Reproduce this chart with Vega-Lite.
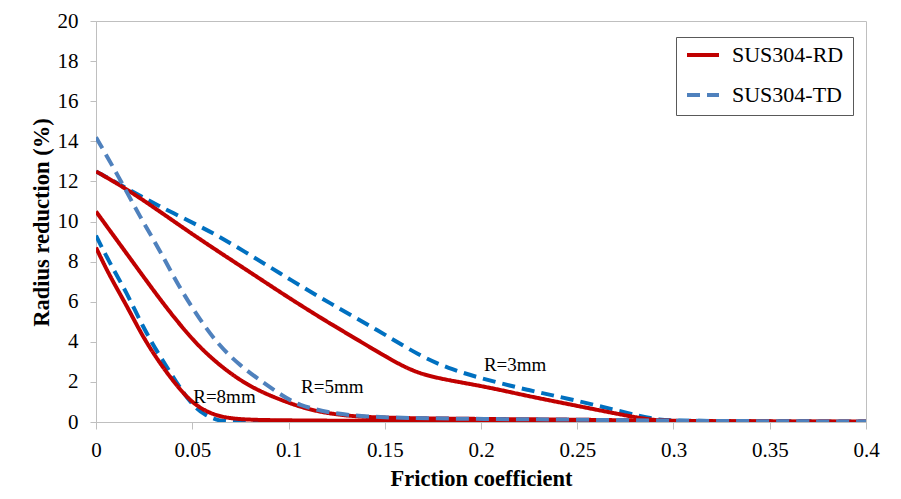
{
  "$schema": "https://vega.github.io/schema/vega-lite/v6.json",
  "autosize": {"type": "none"},
  "padding": {"left": 96, "top": 21, "right": 35, "bottom": 77},
  "width": 770,
  "height": 401,
  "background": "white",
  "config": {
    "font": "Liberation Serif",
    "view": {"stroke": "#BFBFBF", "strokeWidth": 1},
    "axis": {
      "grid": false,
      "domainColor": "#BFBFBF",
      "tickColor": "#BFBFBF",
      "labelFont": "Liberation Serif",
      "labelFontSize": 21,
      "labelColor": "black",
      "titleFont": "Liberation Serif",
      "titleFontSize": 22.5,
      "titleFontWeight": "bold",
      "titleColor": "black"
    },
    "legend": {
      "labelFont": "Liberation Serif",
      "labelFontSize": 22,
      "labelColor": "black"
    }
  },
  "datasets": {
    "curves": [
      {"friction": 0, "reduction": 12.5, "direction": "SUS304-RD", "radius": "3"},
      {"friction": 0.02, "reduction": 11.4, "direction": "SUS304-RD", "radius": "3"},
      {"friction": 0.05, "reduction": 9.35, "direction": "SUS304-RD", "radius": "3"},
      {"friction": 0.078, "reduction": 7.6, "direction": "SUS304-RD", "radius": "3"},
      {"friction": 0.1, "reduction": 6.2, "direction": "SUS304-RD", "radius": "3"},
      {"friction": 0.12, "reduction": 5.0, "direction": "SUS304-RD", "radius": "3"},
      {"friction": 0.135, "reduction": 4.15, "direction": "SUS304-RD", "radius": "3"},
      {"friction": 0.148, "reduction": 3.4, "direction": "SUS304-RD", "radius": "3"},
      {"friction": 0.16, "reduction": 2.75, "direction": "SUS304-RD", "radius": "3"},
      {"friction": 0.17, "reduction": 2.35, "direction": "SUS304-RD", "radius": "3"},
      {"friction": 0.185, "reduction": 2.05, "direction": "SUS304-RD", "radius": "3"},
      {"friction": 0.203, "reduction": 1.75, "direction": "SUS304-RD", "radius": "3"},
      {"friction": 0.225, "reduction": 1.28, "direction": "SUS304-RD", "radius": "3"},
      {"friction": 0.245, "reduction": 0.9, "direction": "SUS304-RD", "radius": "3"},
      {"friction": 0.27, "reduction": 0.42, "direction": "SUS304-RD", "radius": "3"},
      {"friction": 0.288, "reduction": 0.1, "direction": "SUS304-RD", "radius": "3"},
      {"friction": 0.3, "reduction": 0.03, "direction": "SUS304-RD", "radius": "3"},
      {"friction": 0.35, "reduction": 0.02, "direction": "SUS304-RD", "radius": "3"},
      {"friction": 0.4, "reduction": 0, "direction": "SUS304-RD", "radius": "3"},

      {"friction": 0, "reduction": 10.5, "direction": "SUS304-RD", "radius": "5"},
      {"friction": 0.011, "reduction": 9.05, "direction": "SUS304-RD", "radius": "5"},
      {"friction": 0.022, "reduction": 7.6, "direction": "SUS304-RD", "radius": "5"},
      {"friction": 0.033, "reduction": 6.15, "direction": "SUS304-RD", "radius": "5"},
      {"friction": 0.044, "reduction": 4.8, "direction": "SUS304-RD", "radius": "5"},
      {"friction": 0.055, "reduction": 3.6, "direction": "SUS304-RD", "radius": "5"},
      {"friction": 0.069, "reduction": 2.45, "direction": "SUS304-RD", "radius": "5"},
      {"friction": 0.083, "reduction": 1.6, "direction": "SUS304-RD", "radius": "5"},
      {"friction": 0.1, "reduction": 0.95, "direction": "SUS304-RD", "radius": "5"},
      {"friction": 0.113, "reduction": 0.55, "direction": "SUS304-RD", "radius": "5"},
      {"friction": 0.13, "reduction": 0.3, "direction": "SUS304-RD", "radius": "5"},
      {"friction": 0.15, "reduction": 0.2, "direction": "SUS304-RD", "radius": "5"},
      {"friction": 0.2, "reduction": 0.15, "direction": "SUS304-RD", "radius": "5"},
      {"friction": 0.25, "reduction": 0.12, "direction": "SUS304-RD", "radius": "5"},
      {"friction": 0.3, "reduction": 0.05, "direction": "SUS304-RD", "radius": "5"},
      {"friction": 0.35, "reduction": 0.03, "direction": "SUS304-RD", "radius": "5"},
      {"friction": 0.4, "reduction": 0.02, "direction": "SUS304-RD", "radius": "5"},

      {"friction": 0, "reduction": 8.7, "direction": "SUS304-RD", "radius": "8"},
      {"friction": 0.007, "reduction": 7.3, "direction": "SUS304-RD", "radius": "8"},
      {"friction": 0.016, "reduction": 5.8, "direction": "SUS304-RD", "radius": "8"},
      {"friction": 0.024, "reduction": 4.3, "direction": "SUS304-RD", "radius": "8"},
      {"friction": 0.033, "reduction": 2.95, "direction": "SUS304-RD", "radius": "8"},
      {"friction": 0.042, "reduction": 1.8, "direction": "SUS304-RD", "radius": "8"},
      {"friction": 0.05, "reduction": 0.95, "direction": "SUS304-RD", "radius": "8"},
      {"friction": 0.059, "reduction": 0.42, "direction": "SUS304-RD", "radius": "8"},
      {"friction": 0.069, "reduction": 0.17, "direction": "SUS304-RD", "radius": "8"},
      {"friction": 0.083, "reduction": 0.1, "direction": "SUS304-RD", "radius": "8"},
      {"friction": 0.1, "reduction": 0.08, "direction": "SUS304-RD", "radius": "8"},
      {"friction": 0.15, "reduction": 0.05, "direction": "SUS304-RD", "radius": "8"},
      {"friction": 0.2, "reduction": 0.02, "direction": "SUS304-RD", "radius": "8"},
      {"friction": 0.4, "reduction": 0, "direction": "SUS304-RD", "radius": "8"},

      {"friction": 0, "reduction": 12.5, "direction": "SUS304-TD", "radius": "3"},
      {"friction": 0.016, "reduction": 11.65, "direction": "SUS304-TD", "radius": "3"},
      {"friction": 0.031, "reduction": 10.85, "direction": "SUS304-TD", "radius": "3"},
      {"friction": 0.054, "reduction": 9.76, "direction": "SUS304-TD", "radius": "3"},
      {"friction": 0.066, "reduction": 9.15, "direction": "SUS304-TD", "radius": "3"},
      {"friction": 0.09, "reduction": 7.75, "direction": "SUS304-TD", "radius": "3"},
      {"friction": 0.1, "reduction": 7.15, "direction": "SUS304-TD", "radius": "3"},
      {"friction": 0.121, "reduction": 5.95, "direction": "SUS304-TD", "radius": "3"},
      {"friction": 0.147, "reduction": 4.55, "direction": "SUS304-TD", "radius": "3"},
      {"friction": 0.168, "reduction": 3.3, "direction": "SUS304-TD", "radius": "3"},
      {"friction": 0.185, "reduction": 2.6, "direction": "SUS304-TD", "radius": "3"},
      {"friction": 0.203, "reduction": 2.1, "direction": "SUS304-TD", "radius": "3"},
      {"friction": 0.224, "reduction": 1.6, "direction": "SUS304-TD", "radius": "3"},
      {"friction": 0.245, "reduction": 1.17, "direction": "SUS304-TD", "radius": "3"},
      {"friction": 0.27, "reduction": 0.6, "direction": "SUS304-TD", "radius": "3"},
      {"friction": 0.283, "reduction": 0.28, "direction": "SUS304-TD", "radius": "3"},
      {"friction": 0.293, "reduction": 0.11, "direction": "SUS304-TD", "radius": "3"},
      {"friction": 0.3, "reduction": 0.06, "direction": "SUS304-TD", "radius": "3"},
      {"friction": 0.35, "reduction": 0.04, "direction": "SUS304-TD", "radius": "3"},
      {"friction": 0.4, "reduction": 0.02, "direction": "SUS304-TD", "radius": "3"},

      {"friction": 0, "reduction": 14.2, "direction": "SUS304-TD", "radius": "5"},
      {"friction": 0.012, "reduction": 12.2, "direction": "SUS304-TD", "radius": "5"},
      {"friction": 0.023, "reduction": 10.2, "direction": "SUS304-TD", "radius": "5"},
      {"friction": 0.033, "reduction": 8.6, "direction": "SUS304-TD", "radius": "5"},
      {"friction": 0.043, "reduction": 6.75, "direction": "SUS304-TD", "radius": "5"},
      {"friction": 0.054, "reduction": 5.1, "direction": "SUS304-TD", "radius": "5"},
      {"friction": 0.064, "reduction": 3.8, "direction": "SUS304-TD", "radius": "5"},
      {"friction": 0.075, "reduction": 2.8, "direction": "SUS304-TD", "radius": "5"},
      {"friction": 0.087, "reduction": 1.95, "direction": "SUS304-TD", "radius": "5"},
      {"friction": 0.097, "reduction": 1.3, "direction": "SUS304-TD", "radius": "5"},
      {"friction": 0.105, "reduction": 0.85, "direction": "SUS304-TD", "radius": "5"},
      {"friction": 0.121, "reduction": 0.45, "direction": "SUS304-TD", "radius": "5"},
      {"friction": 0.139, "reduction": 0.27, "direction": "SUS304-TD", "radius": "5"},
      {"friction": 0.16, "reduction": 0.2, "direction": "SUS304-TD", "radius": "5"},
      {"friction": 0.2, "reduction": 0.15, "direction": "SUS304-TD", "radius": "5"},
      {"friction": 0.25, "reduction": 0.12, "direction": "SUS304-TD", "radius": "5"},
      {"friction": 0.3, "reduction": 0.06, "direction": "SUS304-TD", "radius": "5"},
      {"friction": 0.35, "reduction": 0.04, "direction": "SUS304-TD", "radius": "5"},
      {"friction": 0.4, "reduction": 0.02, "direction": "SUS304-TD", "radius": "5"},

      {"friction": 0, "reduction": 9.3, "direction": "SUS304-TD", "radius": "8"},
      {"friction": 0.007, "reduction": 7.95, "direction": "SUS304-TD", "radius": "8"},
      {"friction": 0.016, "reduction": 6.45, "direction": "SUS304-TD", "radius": "8"},
      {"friction": 0.024, "reduction": 4.8, "direction": "SUS304-TD", "radius": "8"},
      {"friction": 0.033, "reduction": 3.3, "direction": "SUS304-TD", "radius": "8"},
      {"friction": 0.042, "reduction": 1.95, "direction": "SUS304-TD", "radius": "8"},
      {"friction": 0.049, "reduction": 0.95, "direction": "SUS304-TD", "radius": "8"},
      {"friction": 0.056, "reduction": 0.36, "direction": "SUS304-TD", "radius": "8"},
      {"friction": 0.064, "reduction": 0.05, "direction": "SUS304-TD", "radius": "8"},
      {"friction": 0.07, "reduction": 0, "direction": "SUS304-TD", "radius": "8"},
      {"friction": 0.4, "reduction": 0, "direction": "SUS304-TD", "radius": "8"}
    ],
    "labels": [
      {"friction": 0.0505, "reduction": 1.25, "text": "R=8mm"},
      {"friction": 0.1065, "reduction": 1.75, "text": "R=5mm"},
      {"friction": 0.2015, "reduction": 2.85, "text": "R=3mm"}
    ]
  },
  "layer": [
    {
      "data": {"name": "curves"},
      "transform": [
        {"filter": "datum.direction == 'SUS304-TD' && datum.radius != '5'"}
      ],
      "mark": {"type": "line", "interpolate": "basis", "strokeWidth": 4, "color": "#0070C0", "strokeDash": [13, 7], "clip": true},
      "encoding": {
        "x": {"field": "friction", "type": "quantitative"},
        "y": {"field": "reduction", "type": "quantitative"},
        "detail": {"field": "radius", "type": "nominal"}
      }
    },
    {
      "data": {"name": "curves"},
      "transform": [
        {"filter": "datum.direction == 'SUS304-RD' || datum.radius == '5'"}
      ],
      "mark": {"type": "line", "interpolate": "basis", "strokeWidth": 4, "clip": true},
      "encoding": {
        "x": {
          "field": "friction",
          "type": "quantitative",
          "scale": {"domain": [0, 0.4], "nice": false},
          "axis": {
            "title": "Friction coefficient",
            "values": [0, 0.05, 0.1, 0.15, 0.2, 0.25, 0.3, 0.35, 0.4],
            "format": "~g",
            "tickSize": 7,
            "labelPadding": 10,
            "labelFlush": false,
            "titleBaseline": "alphabetic",
            "titleY": 63
          }
        },
        "y": {
          "field": "reduction",
          "type": "quantitative",
          "scale": {"domain": [0, 20], "nice": false},
          "axis": {
            "title": "Radius reduction (%)",
            "values": [0, 2, 4, 6, 8, 10, 12, 14, 16, 18, 20],
            "tickSize": 6,
            "labelPadding": 12,
            "labelFlush": false,
            "titleBaseline": "alphabetic",
            "titleX": -48,
            "titleY": 201
          }
        },
        "color": {
          "field": "direction",
          "type": "nominal",
          "scale": {"domain": ["SUS304-RD", "SUS304-TD"], "range": ["#C00000", "#4F81BD"]},
          "legend": {
            "title": null,
            "orient": "none",
            "legendX": 580,
            "legendY": 16,
            "padding": 9,
            "clipHeight": 18,
            "rowPadding": 18,
            "symbolSize": 1024,
            "symbolStrokeWidth": 4,
            "labelOffset": 11,
            "strokeColor": "#595959",
            "fillColor": "white"
          }
        },
        "strokeDash": {
          "field": "direction",
          "type": "nominal",
          "scale": {"domain": ["SUS304-RD", "SUS304-TD"], "range": [[1, 0], [13, 7]]},
          "legend": null
        },
        "detail": {"field": "radius", "type": "nominal"}
      }
    },
    {
      "data": {"name": "labels"},
      "mark": {"type": "text", "align": "left", "baseline": "middle", "font": "Liberation Serif", "fontSize": 19, "color": "black"},
      "encoding": {
        "x": {"field": "friction", "type": "quantitative"},
        "y": {"field": "reduction", "type": "quantitative"},
        "text": {"field": "text"}
      }
    }
  ]
}
